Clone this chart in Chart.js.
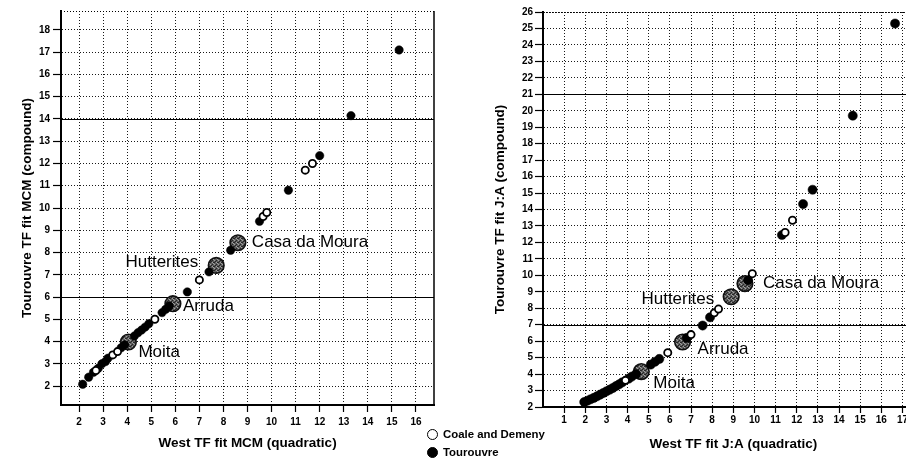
<!DOCTYPE html>
<html><head><meta charset="utf-8">
<script src="https://cdn.jsdelivr.net/npm/chart.js@4"></script>
<style>
html,body{margin:0;padding:0;background:#fff;overflow:hidden;width:906px;height:459px;position:relative;}
#cL{position:absolute;left:0;top:0;}
#cR{position:absolute;left:455px;top:0;}
#legend{position:absolute;left:427px;top:425px;font:bold 11.4px "Liberation Sans",Arial,sans-serif;color:#000;}
.row{height:18px;display:flex;align-items:center;white-space:nowrap;}
.mk{width:11px;height:11px;border-radius:50%;border:1.6px solid #000;box-sizing:border-box;margin-right:5px;}
</style></head><body>
<canvas id="cL" width="450" height="459"></canvas>
<canvas id="cR" width="478" height="459"></canvas>
<div id="legend"></div>
<script>
// ---------- tick labels ----------
const leftXTicks = [2,3,4,5,6,7,8,9,10,11,12,13,14,15,16];
const leftYTicks = [2,3,4,5,6,7,8,9,10,11,12,13,14,15,16,17,18];
const rightXTicks = [1,2,3,4,5,6,7,8,9,10,11,12,13,14,15,16,17,18];
const rightYTicks = [2,3,4,5,6,7,8,9,10,11,12,13,14,15,16,17,18,19,20,21,22,23,24,25,26];

// ---------- series names ----------
const seriesNames = ['Coale and Demeny', 'Tourouvre'];
const namedLabels = ['Moita', 'Arruda', 'Hutterites', 'Casa da Moura'];

// ---------- left chart: MCM ----------
const leftCoaleX = [2.7, 3.4, 3.6, 5.15, 7.0, 9.65, 9.8, 11.4, 11.7];
const leftCoaleY = [2.7, 3.4, 3.55, 5.0, 6.77, 9.62, 9.8, 11.7, 12.0];
const leftTourX = [2.15, 2.4, 2.6, 2.8, 2.95, 3.1, 3.2, 3.75, 3.9, 4.3, 4.45, 4.6, 4.75, 4.9, 5.45, 5.6, 5.75, 6.5, 7.4, 8.3, 9.5, 10.7, 12.0, 13.3, 15.3];
const leftTourY = [2.08, 2.4, 2.62, 2.8, 3.0, 3.1, 3.25, 3.72, 3.85, 4.25, 4.4, 4.52, 4.65, 4.8, 5.3, 5.45, 5.6, 6.23, 7.13, 8.1, 9.4, 10.8, 12.35, 14.15, 17.1];
const leftNamedX = [4.05, 5.9, 7.7, 8.6];
const leftNamedY = [3.98, 5.7, 7.42, 8.44];

// ---------- right chart: J:A ----------
const rightCoaleX = [3.9, 5.9, 7.0, 8.1, 8.3, 9.9, 11.45, 11.8];
const rightCoaleY = [3.62, 5.3, 6.4, 7.72, 7.95, 10.1, 12.6, 13.35];
const rightTourX = [1.95, 2.1, 2.25, 2.4, 2.55, 2.7, 2.85, 3.0, 3.15, 3.3, 3.45, 3.6, 3.75, 4.05, 4.2, 4.4, 5.1, 5.3, 5.5, 6.8, 7.55, 7.9, 9.7, 11.3, 12.3, 12.75, 14.65, 16.65];
const rightTourY = [2.3, 2.38, 2.47, 2.55, 2.65, 2.75, 2.85, 2.95, 3.05, 3.15, 3.27, 3.38, 3.5, 3.72, 3.85, 4.0, 4.58, 4.75, 4.92, 6.2, 6.95, 7.45, 9.7, 12.45, 14.33, 15.2, 19.7, 25.3];
const rightNamedX = [4.65, 6.6, 8.9, 9.55];
const rightNamedY = [4.15, 5.95, 8.7, 9.5];

// ---------- styles ----------
const FONT = '"Liberation Sans", Arial, sans-serif';
const leftLabelStyle = [{dx:10,dy:10,align:'left'},{dx:10,dy:3,align:'left'},{dx:-18,dy:-3,align:'right'},{dx:14,dy:0,align:'left'}];
const rightLabelStyle = [{dx:12,dy:12,align:'left'},{dx:15,dy:7,align:'left'},{dx:-17,dy:3,align:'right'},{dx:18,dy:0,align:'left'}];

function stipple(){
  const c=document.createElement('canvas'); c.width=c.height=4;
  const g=c.getContext('2d');
  g.fillStyle='#5e5e5e'; g.fillRect(0,0,4,4);
  g.fillStyle='#262626'; g.fillRect(0,0,1,1); g.fillRect(2,2,1,1); g.fillRect(3,1,1,1); g.fillRect(1,2,1,1);
  g.fillStyle='#a0a0a0'; g.fillRect(2,0,1,1); g.fillRect(0,2,1,1); g.fillRect(1,3,1,1);
  return g.createPattern(c,'repeat');
}
const zip = (xs, ys) => xs.map((x,i)=>({x, y: ys[i]}));

const framePlugin = {
  id:'frame',
  beforeDatasetsDraw(chart, args, opts){
    const {ctx, chartArea:a, scales} = chart;
    ctx.save();
    ctx.strokeStyle='#000'; ctx.lineWidth=1;
    (opts.majorY||[]).forEach(v=>{
      const y=Math.round(scales.y.getPixelForValue(v))+0.5;
      ctx.beginPath(); ctx.moveTo(a.left,y); ctx.lineTo(a.right,y); ctx.stroke();
    });
    ctx.setLineDash([1,2]);
    ctx.beginPath(); ctx.moveTo(a.left,a.top+0.5); ctx.lineTo(a.right,a.top+0.5); ctx.stroke();
    ctx.setLineDash([]);
    ctx.lineWidth=1.5;
    ctx.beginPath(); ctx.moveTo(a.right,a.top); ctx.lineTo(a.right,a.bottom); ctx.stroke();
    ctx.restore();
  }
};
const labelPlugin = {
  id:'ptLabels',
  afterDatasetsDraw(chart, args, opts){
    const ctx = chart.ctx;
    chart.data.datasets.forEach((ds, di)=>{
      if(!ds.pointLabels) return;
      const meta = chart.getDatasetMeta(di);
      ctx.save();
      ctx.font = '17px ' + FONT;
      ctx.fillStyle = '#000';
      ctx.textBaseline = 'middle';
      meta.data.forEach((el,i)=>{
        const st = ds.labelStyle[i];
        ctx.textAlign = st.align;
        ctx.fillText(ds.pointLabels[i], el.x + st.dx, el.y + st.dy);
      });
      ctx.restore();
    });
  }
};

function makeChart(id, cfg){
  const pattern = stipple();
  const tickFont = {family: FONT, size: 10, weight: 'bold'};
  const titleFont = {family: FONT, size: 13.5, weight: 'bold'};
  const grid = {color:'rgba(0,0,0,0.9)', lineWidth:1, drawTicks:true, tickLength:cfg.tl, tickColor:'#000', tickWidth:1.2};
  return new Chart(document.getElementById(id), {
    type:'scatter',
    data:{datasets:[
      {label:seriesNames[0], data:zip(cfg.cx, cfg.cy), pointRadius:3.6, pointBorderWidth:1.8, borderColor:'#000', backgroundColor:'#fff', pointHoverRadius:3.6},
      {label:seriesNames[1], data:zip(cfg.tx, cfg.ty), pointRadius:cfg.tr, pointBorderWidth:0.5, borderColor:'#000', backgroundColor:'#000', pointHoverRadius:cfg.tr},
      {label:'named', data:zip(cfg.nx, cfg.ny), pointRadius:7.8, pointBorderWidth:1.6, borderColor:'#111', backgroundColor:pattern, pointLabels:namedLabels, labelStyle:cfg.labelStyle}
    ]},
    options:{
      responsive:false, animation:false, events:[],
      layout:{padding:cfg.padding},
      plugins:{legend:{display:false}, tooltip:{enabled:false}, frame:{majorY:cfg.majorY}},
      scales:{
        x:{type:'linear', position:'bottom', min:cfg.xmin, max:cfg.xmax,
           afterBuildTicks:s=>{s.ticks=cfg.xticks.map(v=>({value:v}));},
           afterFit:s=>{s.height=cfg.xh;},
           ticks:{font:tickFont, color:'#000', padding:cfg.xpad, autoSkip:false, maxRotation:0},
           grid:grid, border:{display:true, color:'#000', width:2, dash:[1,2]},
           title:{display:true, text:cfg.xtitle, font:titleFont, color:'#000', padding:{top:0,bottom:cfg.xtpad}}},
        y:{type:'linear', position:'left', min:cfg.ymin, max:cfg.ymax,
           afterBuildTicks:s=>{s.ticks=cfg.yticks.map(v=>({value:v}));},
           afterFit:s=>{s.width=cfg.yw;},
           ticks:{font:tickFont, color:'#000', padding:cfg.ypad, autoSkip:false},
           grid:{...grid, tickLength:8}, border:{display:true, color:'#000', width:2, dash:[1,2]},
           title:{display:true, text:cfg.ytitle, font:titleFont, color:'#000', padding:{top:cfg.ytpad,bottom:0}}}
      }
    },
    plugins:[framePlugin, labelPlugin]
  });
}

makeChart('cL', {
  cx:leftCoaleX, cy:leftCoaleY, tx:leftTourX, ty:leftTourY, nx:leftNamedX, ny:leftNamedY,
  labelStyle:leftLabelStyle, xticks:leftXTicks, yticks:leftYTicks, tr:4.2,
  xmin:1.25, xmax:16.75, ymin:1.15, ymax:18.85,
  padding:{left:0, top:11, right:16, bottom:0}, xh:54, yw:61, tl:7, xpad:4, ypad:3,
  xtpad:8, ytpad:19, majorY:[6,14],
  xtitle:'West TF fit MCM (quadratic)', ytitle:'Tourouvre TF fit MCM (compound)'
});
makeChart('cR', {
  cx:rightCoaleX, cy:rightCoaleY, tx:rightTourX, ty:rightTourY, nx:rightNamedX, ny:rightNamedY,
  labelStyle:rightLabelStyle, xticks:rightXTicks, yticks:rightYTicks, tr:4.6,
  xmin:0, xmax:18, ymin:2, ymax:26,
  padding:{left:0, top:12, right:0, bottom:0}, xh:52, yw:88, tl:6, xpad:1, ypad:2,
  xtpad:7, ytpad:37, majorY:[7,21],
  xtitle:'West TF fit J:A (quadratic)', ytitle:'Tourouvre TF fit J:A (compound)'
});

// legend
const lg = document.getElementById('legend');
seriesNames.forEach((n,i)=>{
  const r=document.createElement('div'); r.className='row';
  const m=document.createElement('span'); m.className='mk'; m.style.background = i===0?'#fff':'#000';
  const t=document.createElement('span'); t.textContent=n;
  r.appendChild(m); r.appendChild(t); lg.appendChild(r);
});
</script>
</body></html>
